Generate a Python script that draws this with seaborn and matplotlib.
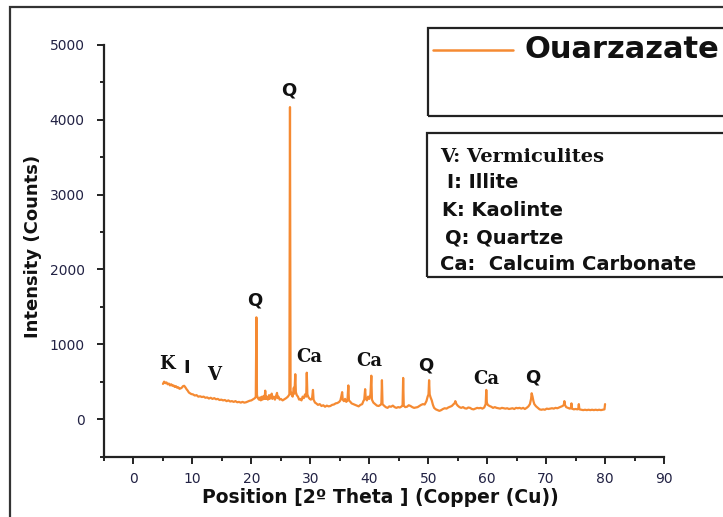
import numpy as np
import pandas as pd
import matplotlib
matplotlib.use("Agg")
import matplotlib.pyplot as plt
from matplotlib.patches import Rectangle
from matplotlib.lines import Line2D
import seaborn as sns

# ---- data (2-theta in degrees, intensity in counts) ----
two_theta = [
    5.0, 5.2, 5.4, 5.6, 5.8, 6.0, 6.2, 6.4, 6.6, 6.8,
    7.0, 7.2, 7.4, 7.6, 7.8, 8.0, 8.2, 8.4, 8.6, 8.8,
    9.0, 9.2, 9.4, 9.6, 9.8, 10.1, 10.4, 10.7, 11.0, 11.3,
    11.6, 11.9, 12.2, 12.5, 12.8, 13.1, 13.4, 13.7, 14.0, 14.3,
    14.6, 14.9, 15.2, 15.5, 15.8, 16.1, 16.4, 16.7, 17.0, 17.3,
    17.6, 17.9, 18.2, 18.5, 18.8, 19.1, 19.4, 19.7, 20.0, 20.3,
    20.6, 20.75, 20.85, 20.95, 21.1, 21.3, 21.5, 21.6, 21.8, 21.9,
    22.1, 22.25, 22.35, 22.45, 22.6, 22.8, 23.0, 23.1, 23.3, 23.45,
    23.55, 23.8, 24.0, 24.2, 24.35, 24.45, 24.6, 24.8, 25.0, 25.3,
    25.6, 25.9, 26.2, 26.45, 26.55, 26.65, 26.8, 27.0, 27.2, 27.3,
    27.45, 27.55, 27.7, 27.9, 28.1, 28.3, 28.5, 28.7, 28.9, 29.1,
    29.3, 29.4, 29.5, 29.7, 29.9, 30.1, 30.3, 30.45, 30.55, 30.8,
    31.0, 31.3, 31.6, 31.9, 32.2, 32.5, 32.8, 33.1, 33.4, 33.7,
    34.0, 34.3, 34.6, 34.9, 35.1, 35.25, 35.4, 35.5, 35.7, 35.9,
    36.1, 36.3, 36.45, 36.55, 36.8, 37.0, 37.3, 37.6, 37.9, 38.2,
    38.5, 38.8, 39.0, 39.15, 39.3, 39.4, 39.6, 39.8, 40.0, 40.2,
    40.35, 40.45, 40.7, 41.0, 41.3, 41.6, 41.9, 42.05, 42.15, 42.25,
    42.5, 42.8, 43.1, 43.4, 43.7, 44.0, 44.3, 44.6, 44.9, 45.2,
    45.5, 45.65, 45.75, 45.85, 46.1, 46.4, 46.7, 47.0, 47.3, 47.6,
    47.9, 48.2, 48.5, 48.8, 49.1, 49.4, 49.7, 49.9, 50.05, 50.15,
    50.25, 50.4, 50.6, 50.8, 51.0, 51.3, 51.6, 51.9, 52.2, 52.5,
    52.8, 53.1, 53.4, 53.7, 54.0, 54.3, 54.5, 54.6, 54.8, 55.0,
    55.3, 55.6, 55.9, 56.2, 56.5, 56.8, 57.1, 57.4, 57.7, 58.0,
    58.3, 58.6, 58.9, 59.2, 59.5, 59.75, 59.85, 59.95, 60.1, 60.4,
    60.7, 61.0, 61.3, 61.6, 61.9, 62.2, 62.5, 62.8, 63.1, 63.4,
    63.7, 64.0, 64.3, 64.6, 64.9, 65.2, 65.5, 65.8, 66.1, 66.4,
    66.7, 67.0, 67.25, 67.45, 67.55, 67.7, 67.85, 68.0, 68.3, 68.6,
    68.9, 69.2, 69.5, 69.8, 70.1, 70.4, 70.7, 71.0, 71.3, 71.6,
    71.9, 72.2, 72.5, 72.8, 73.0, 73.1, 73.2, 73.4, 73.7, 74.0,
    74.2, 74.3, 74.4, 74.7, 75.0, 75.3, 75.45, 75.55, 75.65, 76.0,
    76.3, 76.6, 76.9, 77.2, 77.5, 77.8, 78.1, 78.4, 78.7, 79.0,
    79.3, 79.6, 79.9, 80.0]

intensity = [
    470, 500, 480, 490, 465, 475, 450, 465, 445, 450,
    430, 440, 420, 425, 405, 410, 420, 440, 445, 425,
    400, 380, 355, 345, 335, 330, 315, 320, 300, 305,
    295, 300, 285, 290, 275, 285, 270, 280, 265, 270,
    255, 260, 250, 255, 240, 250, 235, 240, 230, 240,
    225, 230, 220, 230, 220, 225, 235, 245, 250, 265,
    280, 300, 1360, 320, 280, 260, 290, 250, 300, 260,
    310, 270, 380, 270, 300, 260, 320, 270, 290, 340,
    270, 300, 260, 310, 350, 280, 300, 260, 270, 250,
    265, 280, 300, 330, 4170, 380, 330, 300, 420, 340,
    600, 360, 320, 300, 260, 270, 250, 300, 280, 330,
    300, 620, 330, 290, 270, 260, 280, 390, 260, 220,
    210, 190, 200, 175, 185, 165, 180, 170, 175, 190,
    195, 210, 215, 230, 250, 300, 360, 260, 240, 270,
    230, 250, 450, 250, 230, 210, 200, 190, 180, 170,
    190, 200, 240, 260, 400, 280, 250, 300, 270, 330,
    580, 260, 220, 200, 180, 175, 190, 200, 520, 200,
    180, 160, 150, 170, 165, 180, 160, 150, 160, 155,
    170, 180, 550, 180, 160, 165, 185, 175, 160, 150,
    155, 160, 175, 190, 200, 195, 240, 300, 330, 520,
    330, 290, 250, 190, 150, 130, 120, 110, 120, 135,
    145, 140, 155, 165, 175, 200, 215, 240, 200, 180,
    160, 150, 160, 145, 140, 155, 150, 135, 130, 140,
    150, 145, 150, 140, 155, 200, 390, 220, 190, 175,
    165, 150, 160, 150, 145, 140, 150, 145, 140, 145,
    135, 140, 145, 135, 150, 145, 150, 140, 150, 135,
    150, 170, 200, 270, 345, 300, 240, 200, 170, 150,
    130, 125, 130, 125, 140, 135, 140, 145, 140, 150,
    145, 155, 165, 175, 190, 240, 190, 160, 150, 140,
    145, 210, 140, 130, 135, 130, 135, 200, 130, 125,
    120, 125, 120, 125, 120, 125, 120, 125, 120, 125,
    120, 125, 130, 200]

# peak annotations: label, 2-theta position, height of the label
peak_labels = ["Q", "Q", "Ca", "Ca", "Q", "Ca", "Q", "K", "I", "V"]
peak_x = [26.3, 20.6, 29.9, 40.0, 49.6, 59.9, 67.7, 5.6, 9.0, 13.7]
peak_y = [4390, 1590, 830, 780, 710, 535, 550, 735, 680, 590]

series_name = "Ouarzazate"
legend_lines = ["V: Vermiculites", "I: Illite", "K: Kaolinte", "Q: Quartze",
                "Ca:  Calcuim Carbonate"]

x_ticks = [0, 10, 20, 30, 40, 50, 60, 70, 80, 90]
y_ticks = [0, 1000, 2000, 3000, 4000, 5000]

# ---- plot ----
sns.set_style("ticks")
plt.rcParams["font.family"] = ["DejaVu Sans"]

orange = "#F58A32"
dark = "#111111"

fig = plt.figure(figsize=(7.23, 5.17), dpi=100)
ax = fig.add_axes([104 / 723, 1 - 456.5 / 517, 560 / 723, 411.5 / 517])

df = pd.DataFrame({"two_theta": two_theta, "intensity": intensity})
sns.lineplot(data=df, x="two_theta", y="intensity", ax=ax, color=orange,
             linewidth=1.6, estimator=None, sort=False)

ax.set_xlim(-5, 90)
ax.set_ylim(-500, 5000)
ax.set_xticks(x_ticks)
ax.set_xticks(np.arange(-5, 90, 10), minor=True)
ax.set_yticks(y_ticks)
ax.set_yticks(np.arange(-500, 5000, 1000), minor=True)
ax.set_xticklabels([str(t) for t in x_ticks])
ax.set_yticklabels([str(t) for t in y_ticks])

for s in ["top", "right"]:
    ax.spines[s].set_visible(False)
for s in ["left", "bottom"]:
    ax.spines[s].set_linewidth(1.6)
    ax.spines[s].set_color("#222222")

ax.tick_params(axis="both", which="major", direction="out", length=5,
               width=1.4, color="#222222", labelsize=10, labelcolor="#222244")
ax.tick_params(axis="both", which="minor", direction="out", length=3,
               width=1.4, color="#222222")
ax.tick_params(axis="y", which="major", pad=9)
ax.tick_params(axis="x", which="major", pad=6)

ax.set_xlabel("Position [2º Theta ] (Copper (Cu))", fontsize=13.5,
              fontweight="bold", color=dark)
ax.xaxis.set_label_coords(0.493, -0.077)
ax.set_ylabel("Intensity (Counts)", fontsize=13, fontweight="bold", color=dark)
ax.yaxis.set_label_coords(-0.11, 0.51)

for lab, px, py in zip(peak_labels, peak_x, peak_y):
    if lab in ("Ca", "K", "V"):
        fam = ["DejaVu Serif"]
    else:
        fam = ["DejaVu Sans"]
    ax.text(px, py, lab, ha="center", va="center", fontsize=13,
            fontweight="bold", color=dark, family=fam)

# outer frame of the picture
fig.patches.append(Rectangle((10 / 723, -0.05), 1.2, 1 - 7 / 517 + 0.05,
                             transform=fig.transFigure, fill=False,
                             lw=1.6, edgecolor="#333333", clip_on=False))

# legend box with the series
fig.patches.append(Rectangle((428 / 723, 1 - 116 / 517), 0.5, 88 / 517,
                             transform=fig.transFigure, fill=False,
                             lw=1.6, edgecolor="#222222", clip_on=False))
fig.lines.append(Line2D([433 / 723, 513 / 723], [1 - 50 / 517, 1 - 50 / 517],
                        transform=fig.transFigure, color=orange, lw=1.8))
fig.text(525 / 723, 1 - 50 / 517, series_name, fontsize=22, fontweight="bold",
         color=dark, ha="left", va="center", family=["DejaVu Sans"])

# key box
fig.patches.append(Rectangle((427 / 723, 1 - 277 / 517), 0.5, 144 / 517,
                             transform=fig.transFigure, fill=False,
                             lw=1.6, edgecolor="#222222", clip_on=False))
key_x = [440, 447, 442, 445, 440]
key_y = [157, 183, 211, 238, 264]
for i, (txt, kx, ky) in enumerate(zip(legend_lines, key_x, key_y)):
    if i == 0:
        fam = ["DejaVu Serif"]
        fs = 14
    else:
        fam = ["DejaVu Sans"]
        fs = 14
    fig.text(kx / 723, 1 - ky / 517, txt, fontsize=fs, fontweight="bold",
             color=dark, ha="left", va="center", family=fam)

fig.savefig("out.png", dpi=100)
